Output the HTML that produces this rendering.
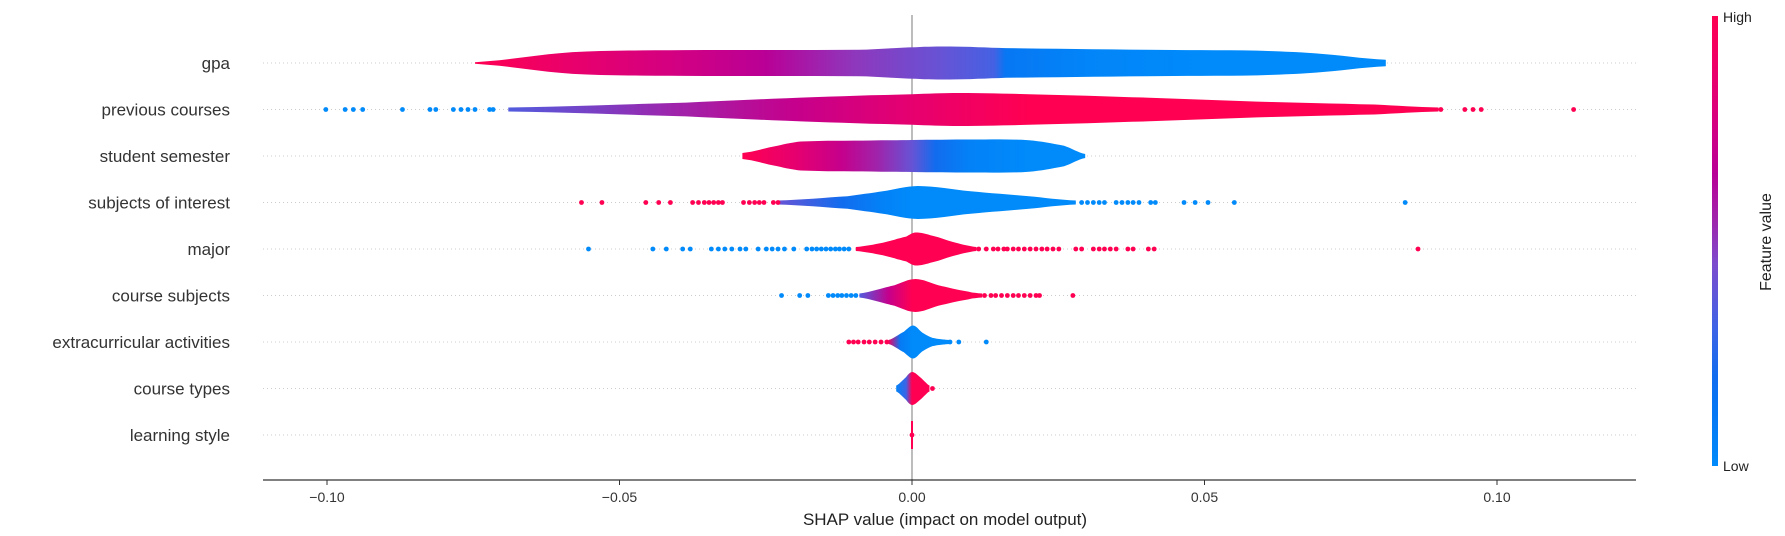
<!DOCTYPE html>
<html><head><meta charset="utf-8"><style>
html,body{margin:0;padding:0;background:#fff;}
svg{display:block;font-family:"Liberation Sans","DejaVu Sans",sans-serif;}
</style></head>
<body>
<svg id="chart" width="1785" height="536" viewBox="0 0 1785 536"></svg>
<script>
// ---- data ----
const features = ["gpa","previous courses","student semester","subjects of interest","major","course subjects","extracurricular activities","course types","learning style"];
const xTicks = [-0.10,-0.05,0.00,0.05,0.10];
const xTickLabels = ["\u22120.10","\u22120.05","0.00","0.05","0.10"];
// violin profiles: SHAP value positions and relative half-widths (0..1)
const profX = [
 [-0.0747,-0.058,-0.039,-0.009,0.0006,0.0065,0.016,0.04,0.059,0.069,0.081],
 [-0.069,-0.0386,-0.019,0,0.008,0.02,0.04,0.059,0.079,0.090],
 [-0.029,-0.023,-0.019,-0.007,0,0.010,0.020,0.026,0.0296],
 [-0.023,-0.011,-0.005,0.001,0.010,0.020,0.028],
 [-0.0096,-0.005,-0.001,0.0006,0.0035,0.0075,0.011],
 [-0.009,-0.003,0.0006,0.0045,0.0094,0.012],
 [-0.004,-0.0014,0.0002,0.0018,0.0035,0.0065],
 [-0.0027,-0.0014,0.0000,0.0016,0.003],
 [-0.0003,0.0003]
];
const profW = [
 [0.05,0.66,0.78,0.8,0.96,1.0,0.9,0.8,0.75,0.58,0.2],
 [0.12,0.42,0.72,0.92,1.0,0.92,0.72,0.48,0.3,0.12],
 [0.18,0.62,0.88,0.94,0.97,1.0,0.96,0.62,0.12],
 [0.12,0.38,0.68,1.0,0.68,0.38,0.12],
 [0.12,0.38,0.75,1.0,0.8,0.38,0.12],
 [0.12,0.62,1.0,0.62,0.25,0.12],
 [0.12,0.62,1.0,0.56,0.25,0.12],
 [0.18,0.56,1.0,0.62,0.18],
 [0.9,0.9]
];
// feature-value colour along each violin (1 = high, 0 = low)
const colX = [
 [-0.075,-0.06,-0.04,-0.025,-0.01,0.005,0.014,0.016,0.03,0.05],
 [-0.069,-0.04,-0.02,0,0.02],
 [-0.029,-0.02,-0.012,-0.006,0,0.004,0.01,0.02],
 [-0.023,-0.012,-0.005,0],
 [-0.0096,0.011],
 [-0.009,-0.004,0],
 [-0.004,-0.002,0],
 [-0.0027,-0.001,0],
 [-0.0003,0.0003]
];
const colV = [
 [1.0,0.88,0.75,0.65,0.5,0.4,0.32,0.12,0.03,0],
 [0.35,0.55,0.7,0.85,1.0],
 [1.0,0.85,0.7,0.55,0.4,0.2,0.05,0],
 [0.4,0.2,0.05,0],
 [1,1],
 [0.35,0.7,1],
 [0.9,0.1,0],
 [0.05,0.3,1],
 [1,1]
];
// outlier dots (SHAP values) per feature, with feature value colour
const dotsX = [
 [],
 [-0.1002,-0.0969,-0.0955,-0.0939,-0.0871,-0.0824,-0.0814,-0.0784,-0.0771,-0.0759,-0.0747,-0.0722,-0.0716,0.0904,0.0945,0.0959,0.0973,0.1131],
 [],
 [-0.0565,-0.053,-0.0455,-0.0433,-0.0413,-0.0375,-0.0365,-0.0355,-0.0347,-0.0339,-0.0331,-0.0324,-0.0288,-0.0278,-0.0269,-0.0261,-0.0253,-0.0237,-0.0229,0.0290,0.0300,0.0310,0.0320,0.0329,0.0349,0.0359,0.0369,0.0378,0.0388,0.0408,0.0416,0.0465,0.0484,0.0506,0.0551,0.0843],
 [-0.0553,-0.0443,-0.0420,-0.0392,-0.0379,-0.0343,-0.0331,-0.0320,-0.0308,-0.0294,-0.0284,-0.0263,-0.0249,-0.0239,-0.0229,-0.0218,-0.0202,-0.0180,-0.0171,-0.0163,-0.0155,-0.0147,-0.0139,-0.0131,-0.0124,-0.0116,-0.0108,0.0114,0.0127,0.0139,0.0147,0.0157,0.0163,0.0173,0.0182,0.0192,0.0202,0.0212,0.0222,0.0231,0.0241,0.0251,0.0280,0.0290,0.0310,0.0320,0.0329,0.0339,0.0349,0.0369,0.0378,0.0404,0.0414,0.0865],
 [-0.0223,-0.0192,-0.0178,-0.0143,-0.0135,-0.0127,-0.0120,-0.0112,-0.0104,-0.0096,0.0124,0.0135,0.0143,0.0153,0.0163,0.0173,0.0182,0.0192,0.0202,0.0212,0.0218,0.0275],
 [-0.0108,-0.0100,-0.0092,-0.0082,-0.0073,-0.0063,-0.0053,-0.0043,0.0045,0.0055,0.0065,0.0080,0.0127],
 [0.0035],
 [0.0]
];
const dotsV = [
 [],
 [0,0,0,0,0,0,0,0,0,0,0,0,0,1,1,1,1,1],
 [],
 [1,1,1,1,1,1,1,1,1,1,1,1,1,1,1,1,1,1,1,0,0,0,0,0,0,0,0,0,0,0,0,0,0,0,0,0],
 [0,0,0,0,0,0,0,0,0,0,0,0,0,0,0,0,0,0,0,0,0,0,0,0,0,0,0,1,1,1,1,1,1,1,1,1,1,1,1,1,1,1,1,1,1,1,1,1,1,1,1,1,1,1],
 [0,0,0,0,0,0,0,0,0,0,1,1,1,1,1,1,1,1,1,1,1,1],
 [1,1,1,1,1,1,1,1,0,0,0,0,0],
 [1],
 [1]
];
// ---- layout ----
const X0 = 912, PXU = 5850;
const xS = v => X0 + v * PXU;
const rowY = i => 63 + i * 46.5;
const HW = 16.5;
const NS = "http://www.w3.org/2000/svg";
const svg = document.getElementById('chart');
function mk(t, a, p) { const e = document.createElementNS(NS, t); for (const k in a) e.setAttribute(k, a[k]); (p || svg).appendChild(e); return e; }
const cmapStops = [[0,[0,138,250]],[0.18,[10,110,240]],[0.3,[60,100,230]],[0.45,[125,75,205]],[0.55,[160,35,170]],[0.65,[185,0,150]],[0.8,[222,0,120]],[1,[255,0,82]]];
function cmap(t) {
  for (let i = 1; i < cmapStops.length; i++) {
    if (t <= cmapStops[i][0]) {
      const a = cmapStops[i-1], b = cmapStops[i], f = (t - a[0]) / (b[0] - a[0]);
      const c = a[1].map((v, k) => Math.round(v + (b[1][k] - v) * f));
      return `rgb(${c[0]},${c[1]},${c[2]})`;
    }
  }
  return 'rgb(255,0,82)';
}
const defs = mk('defs', {});
const cbg = mk('linearGradient', {id: 'cbg', x1: 0, y1: 1, x2: 0, y2: 0}, defs);
for (let i = 0; i <= 20; i++) mk('stop', {offset: i / 20, 'stop-color': cmap(i / 20)}, cbg);

features.forEach((f, i) => {
  const g = mk('line', {x1: 263, x2: 1636, y1: rowY(i), y2: rowY(i), stroke: '#ccc', 'stroke-width': 1, 'stroke-dasharray': '1,3'});
  
  
});
const zl = mk('line', {x1: xS(0), x2: xS(0), y1: 15, y2: 480, stroke: '#999', 'stroke-width': 1.3});



features.forEach((f, i) => {
  const y = rowY(i);
  const g = mk('linearGradient', {id: 'vg' + i, gradientUnits: 'userSpaceOnUse', x1: xS(colX[i][0]), x2: xS(colX[i][colX[i].length-1]) + 0.01, y1: 0, y2: 0}, defs);
  const c0 = colX[i][0], c1 = colX[i][colX[i].length-1];
  colX[i].forEach((cx, k) => mk('stop', {offset: c1 === c0 ? k : (cx - c0) / (c1 - c0), 'stop-color': cmap(colV[i][k])}, g));
  const xs = profX[i], ws = profW[i];
  let top = [], bot = [];
  const N = xs.length;
  for (let k = 0; k < N - 1; k++) {
    for (let s = 0; s < 8; s++) {
      const t = s / 8;
      const p0 = ws[Math.max(k-1,0)], p1 = ws[k], p2 = ws[k+1], p3 = ws[Math.min(k+2,N-1)];
      const w = 0.5*((2*p1)+(-p0+p2)*t+(2*p0-5*p1+4*p2-p3)*t*t+(-p0+3*p1-3*p2+p3)*t*t*t);
      const xv = xs[k] + (xs[k+1]-xs[k]) * t;
      top.push([xS(xv), y - Math.max(w,0.05)*HW]); bot.push([xS(xv), y + Math.max(w,0.05)*HW]);
    }
  }
  top.push([xS(xs[N-1]), y - ws[N-1]*HW]); bot.push([xS(xs[N-1]), y + ws[N-1]*HW]);
  const pts = top.concat(bot.reverse()).map(p => p[0].toFixed(1) + ',' + p[1].toFixed(1)).join(' ');
  const pg = mk('polygon', {points: pts, fill: `url(#vg${i})`});
  if (i === 8) { pg.setAttribute('fill', cmap(1)); pg.setAttribute('points', `${xS(0)-1},${y-14} ${xS(0)+1},${y-14} ${xS(0)+1},${y+14} ${xS(0)-1},${y+14}`); }
  
  
  dotsX[i].forEach((dx, k) => {
    const c = mk('circle', {cx: xS(dx), cy: y, r: 2.4, fill: cmap(dotsV[i][k])});
    
    
  });
  const t = mk('text', {x: 230, y: y + 6, 'text-anchor': 'end', 'font-size': 17, fill: '#333'});
  t.textContent = f;
  
  
});

const ax = mk('line', {x1: 263, x2: 1636, y1: 480, y2: 480, stroke: '#000', 'stroke-width': 1});


xTicks.forEach((tv, k) => {
  const tk = mk('line', {x1: xS(tv), x2: xS(tv), y1: 480, y2: 485, stroke: '#333', 'stroke-width': 1});
  
  
  const tl = mk('text', {x: xS(tv), y: 502, 'text-anchor': 'middle', 'font-size': 14, fill: '#333'});
  tl.textContent = xTickLabels[k];
  
  
});
const xl = mk('text', {x: 945, y: 525, 'text-anchor': 'middle', 'font-size': 17, fill: '#222'});
xl.textContent = 'SHAP value (impact on model output)';



const cb = mk('rect', {x: 1712, y: 16, width: 6, height: 450, fill: 'url(#cbg)'});


const hi = mk('text', {x: 1723, y: 22, 'font-size': 14, fill: '#222'});
hi.textContent = 'High';


const lo = mk('text', {x: 1723, y: 471, 'font-size': 14, fill: '#222'});
lo.textContent = 'Low';


const fv = mk('text', {x: 1771, y: 242, 'text-anchor': 'middle', 'font-size': 16, fill: '#222', transform: 'rotate(-90 1771 242)'});
fv.textContent = 'Feature value';


</script>
</body></html>
